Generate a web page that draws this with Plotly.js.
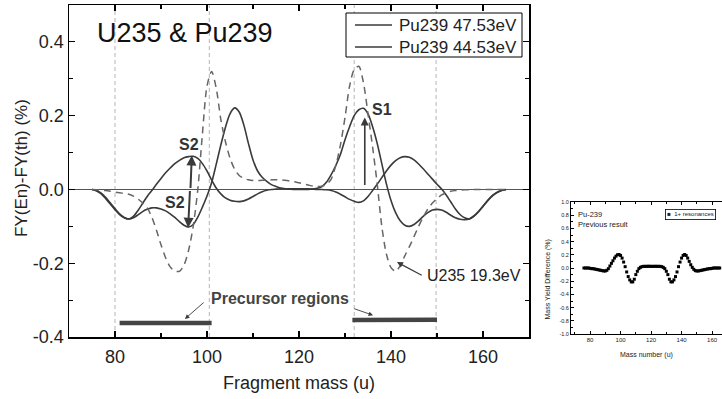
<!DOCTYPE html>
<html><head><meta charset="utf-8">
<script src="https://cdn.plot.ly/plotly-3.0.1.min.js"></script>
<style>html,body{margin:0;padding:0;background:#fff}#chart{width:722px;height:399px}</style>
</head><body><div id="chart"></div>
<script>
// ---------- main chart data ----------
const mass = [75,76,77,78,79,80,81,82,83,84,85,86,87,88,89,90,91,92,93,94,95,96,97,98,99,100,
  101,102,103,104,105,106,107,108,109,110,111,112,113,114,115,116,117,118,119,120,121,122,123,124,125,
  126,127,128,129,130,131,132,133,134,135,136,137,138,139,140,141,142,143,144,145,146,147,148,149,150,
  151,152,153,154,155,156,157,158,159,160,161,162,163,164,165];

const pu239_4753 = [0.000,-0.003,-0.010,-0.022,-0.037,-0.052,-0.066,-0.076,-0.080,-0.077,-0.069,-0.060,-0.054,-0.050,-0.050,
  -0.053,-0.058,-0.066,-0.076,-0.087,-0.097,-0.102,-0.095,-0.075,-0.048,-0.018,
  0.018,0.068,0.120,0.168,0.205,0.221,0.210,0.175,0.125,0.080,0.050,0.033,0.022,0.013,0.008,0.004,0.002,0.001,0.000,0.000,0.000,0.000,0.001,0.003,0.008,
  0.020,0.040,0.065,0.095,0.135,0.170,0.200,0.216,0.220,0.205,0.170,0.125,0.070,0.015,-0.030,-0.063,-0.085,-0.097,-0.100,-0.095,-0.085,-0.073,-0.063,-0.056,-0.054,
  -0.056,-0.062,-0.070,-0.077,-0.081,-0.082,-0.080,-0.072,-0.060,-0.045,-0.030,-0.017,-0.008,-0.003,0.000];

const pu239_4453 = [0.000,-0.004,-0.012,-0.025,-0.040,-0.055,-0.068,-0.077,-0.080,-0.073,-0.057,-0.038,-0.019,-0.003,0.014,
  0.030,0.045,0.058,0.070,0.079,0.086,0.089,0.090,0.084,0.070,0.050,
  0.026,0.004,-0.012,-0.023,-0.029,-0.032,-0.033,-0.031,-0.026,-0.019,-0.012,-0.006,-0.002,0.000,0.001,0.002,0.002,0.002,0.002,0.002,0.002,0.002,0.001,0.000,0.000,
  -0.001,-0.003,-0.007,-0.013,-0.020,-0.027,-0.032,-0.035,-0.031,-0.019,-0.003,0.014,0.032,0.050,0.066,0.078,0.086,0.089,0.087,0.080,0.069,0.056,0.042,0.028,0.014,
  0.001,-0.015,-0.034,-0.053,-0.068,-0.077,-0.080,-0.073,-0.061,-0.046,-0.031,-0.018,-0.009,-0.003,0.000];

const u235_193 = [0.000,-0.001,-0.002,-0.003,-0.005,-0.007,-0.009,-0.011,-0.013,-0.018,-0.026,-0.036,-0.050,-0.075,-0.110,
  -0.150,-0.185,-0.210,-0.221,-0.222,-0.205,-0.165,-0.100,0.000,0.150,0.280,
  0.320,0.275,0.190,0.130,0.085,0.055,0.038,0.030,0.026,0.024,0.024,0.025,0.025,0.026,0.026,0.026,0.025,0.023,0.021,0.018,0.015,0.012,0.009,0.008,0.009,
  0.014,0.028,0.065,0.120,0.195,0.280,0.325,0.334,0.290,0.205,0.115,0.015,-0.100,-0.175,-0.212,-0.222,-0.207,-0.180,-0.155,-0.128,-0.100,-0.075,-0.053,-0.037,-0.025,
  -0.015,-0.009,-0.005,-0.003,-0.002,-0.001,-0.001,0.000,0.000,0.000,0.000,0.000,0.000,0.000,0.000];

const seriesNames = ['Pu239 47.53eV', 'Pu239 44.53eV'];
const regionEdges = [80, 100.5, 132, 149.8];
const precursorLeftX = [81, 101];
const precursorLeftY = [-0.362, -0.362];
const precursorRightX = [131.6, 150];
const precursorRightY = [-0.354, -0.353];

const yTickVals = [-0.4, -0.2, 0.0, 0.2, 0.4];
const yTickText = ['-0.4', '-0.2', '0.0', '0.2', '0.4'];
const xTickVals = [80, 100, 120, 140, 160];

// ---------- inset (previous result) data ----------
const insetMass = [76,77,78,79,80,81,82,83,84,85,86,87,88,89,90,91,92,93,94,95,96,97,98,99,100,
  101,102,103,104,105,106,107,108,109,110,111,112,113,114,115,116,117,118,119,120,121,122,123,124,125,
  126,127,128,129,130,131,132,133,134,135,136,137,138,139,140,141,142,143,144,145,146,147,148,149,150,
  151,152,153,154,155,156,157,158,159,160,161,162,163,164,165];
const insetDiff = [0.000,0.000,0.000,0.000,-0.005,-0.010,-0.010,-0.015,-0.020,-0.025,-0.030,-0.035,-0.040,-0.045,-0.045,
  -0.035,-0.010,0.030,0.070,0.110,0.150,0.180,0.200,0.205,0.190,
  0.150,0.090,0.020,-0.060,-0.130,-0.180,-0.210,-0.210,-0.170,-0.100,-0.050,-0.010,0.010,0.020,0.025,0.025,0.025,0.026,0.026,0.025,0.025,0.025,0.026,0.025,0.025,
  0.025,0.020,0.010,-0.010,-0.050,-0.100,-0.170,-0.210,-0.210,-0.180,-0.130,-0.060,0.020,0.090,0.150,0.190,0.205,0.190,0.150,0.100,0.050,0.010,-0.020,-0.040,-0.045,
  -0.045,-0.040,-0.035,-0.030,-0.025,-0.020,-0.015,-0.010,-0.010,-0.005,0.000,0.000,0.000,0.000,0.000];
const insetYTickVals = [-1.0,-0.8,-0.6,-0.4,-0.2,0.0,0.2,0.4,0.6,0.8,1.0];
const insetYTickText = ['-1.0','-0.8','-0.6','-0.4','-0.2','0.0','0.2','0.4','0.6','0.8','1.0'];
const insetXTickVals = [80, 100, 120, 140, 160];

const FONT = 'Liberation Sans, Arial, Helvetica, sans-serif';
const solidColor = '#3a3a3a';
const W = 722, H = 399;
const px = v => v / W;          // pixel -> paper x
const py = v => 1 - v / H;      // pixel -> paper y

const traces = [
  {x: mass, y: pu239_4753, name: seriesNames[0], type: 'scatter', mode: 'lines',
   line: {color: solidColor, width: 1.6, shape: 'spline', smoothing: 0.8}, xaxis: 'x', yaxis: 'y'},
  {x: mass, y: pu239_4453, name: seriesNames[1], type: 'scatter', mode: 'lines',
   line: {color: solidColor, width: 1.6, shape: 'spline', smoothing: 0.8}, xaxis: 'x', yaxis: 'y'},
  {x: mass, y: u235_193, name: 'U235 19.3eV', type: 'scatter', mode: 'lines',
   line: {color: '#666', width: 1.5, dash: '7px,5px', shape: 'spline', smoothing: 0.8}, xaxis: 'x', yaxis: 'y'},
  {x: precursorLeftX, y: precursorLeftY, type: 'scatter', mode: 'lines',
   line: {color: '#444', width: 4.5}, xaxis: 'x', yaxis: 'y', hoverinfo: 'skip'},
  {x: precursorRightX, y: precursorRightY, type: 'scatter', mode: 'lines',
   line: {color: '#444', width: 4.5}, xaxis: 'x', yaxis: 'y', hoverinfo: 'skip'},
  {x: insetMass, y: insetDiff, name: '1+ resonances', type: 'scatter', mode: 'markers',
   marker: {symbol: 'square', size: 3, color: '#000', line: {width: 0}}, xaxis: 'x2', yaxis: 'y2'}
];

const shapes = regionEdges.map(v => ({
  type: 'line', xref: 'x', yref: 'y domain', x0: v, x1: v, y0: 0, y1: 1,
  line: {color: '#b5b5b5', width: 1, dash: '4px,3px'}, layer: 'below'
}));
// legend box of the main chart (drawn by hand to match the reference spacing)
shapes.push({type: 'rect', xref: 'paper', yref: 'paper', x0: px(346), x1: px(522), y0: py(57), y1: py(13),
  line: {color: '#000', width: 1}, fillcolor: '#fff', layer: 'above'});
shapes.push({type: 'line', xref: 'paper', yref: 'paper', x0: px(355), x1: px(392), y0: py(25), y1: py(25),
  line: {color: solidColor, width: 1.6}, layer: 'above'});
shapes.push({type: 'line', xref: 'paper', yref: 'paper', x0: px(355), x1: px(392), y0: py(47), y1: py(47),
  line: {color: solidColor, width: 1.6}, layer: 'above'});

function arrow(x, y, ax, ay, w, size, head) {
  return {xref: 'x', yref: 'y', axref: 'x', ayref: 'y', x: x, y: y, ax: ax, ay: ay, text: '',
    showarrow: true, arrowhead: head, arrowsize: size, arrowwidth: w, arrowcolor: '#3a3a3a', standoff: 0, startstandoff: 0};
}
function ptext(x, y, text, size, extra) {
  return Object.assign({xref: 'paper', yref: 'paper', x: px(x), y: py(y), xanchor: 'center', yanchor: 'middle',
    showarrow: false, text: text, font: {family: FONT, size: size, color: '#222'}}, extra || {});
}

const annotations = [
  {xref: 'x', yref: 'y', x: 75.6, y: 0.424, xanchor: 'left', yanchor: 'middle', showarrow: false,
   text: 'U235 &amp; Pu239', font: {family: FONT, size: 27, color: '#111'}},
  {xref: 'x', yref: 'y', x: 138.0, y: 0.216, xanchor: 'center', yanchor: 'middle', showarrow: false, text: '<b>S1</b>',
   font: {family: FONT, size: 16, color: '#333'}},
  {xref: 'x', yref: 'y', x: 96.1, y: 0.122, xanchor: 'center', yanchor: 'middle', showarrow: false, text: '<b>S2</b>',
   font: {family: FONT, size: 16, color: '#333'}},
  {xref: 'x', yref: 'y', x: 93.0, y: -0.035, xanchor: 'center', yanchor: 'middle', showarrow: false, text: '<b>S2</b>',
   font: {family: FONT, size: 16, color: '#333'}},
  {xref: 'x', yref: 'y', x: 115.9, y: -0.295, xanchor: 'center', yanchor: 'middle', showarrow: false, text: '<b>Precursor regions</b>',
   font: {family: FONT, size: 16, color: '#444'}},
  {xref: 'x', yref: 'y', x: 147.4, y: -0.232, xanchor: 'left', yanchor: 'middle', showarrow: false, text: 'U235 19.3eV',
   font: {family: FONT, size: 16, color: '#222'}},
  arrow(134.3, 0.195, 134.3, 0.008, 1.6, 1, 2),
  arrow(96.7, 0.092, 96.4, 0.0, 2, 1, 2),
  arrow(95.9, -0.104, 96.3, 0.0, 2, 1, 2),
  arrow(95.2, -0.351, 99.6, -0.303, 0.9, 1, 2),
  arrow(136.1, -0.341, 131.7, -0.322, 0.9, 1, 2),
  arrow(141.3, -0.197, 147.0, -0.235, 1.2, 1, 2),
  // legend texts of the main chart
  ptext(397, 36, seriesNames[0] + '<br>' + seriesNames[1], 17, {xanchor: 'left', align: 'left'}),
  // axis titles of main chart
  ptext(299, 383, 'Fragment mass (u)', 18),
  ptext(21, 168, 'FY(En)-FY(th) (%)', 17, {textangle: -90}),
  // inset texts
  ptext(576, 208, 'Pu-239<br>Previous result', 7.5, {xanchor: 'left', yanchor: 'top', align: 'left'}),
  ptext(690.5, 214.5, '\u25A0&nbsp;&nbsp;1+ resonances', 6, {bordercolor: '#000', borderwidth: 0.8, borderpad: 1.5, bgcolor: '#fff'}),
  ptext(646.7, 355, 'Mass number (u)', 7),
  ptext(547.5, 280, 'Mass Yield Difference (%)', 7, {textangle: -90})
];

const layout = {
  width: W, height: H,
  margin: {l: 0, r: 0, t: 0, b: 0, pad: 0},
  paper_bgcolor: '#fff', plot_bgcolor: 'rgba(0,0,0,0)',
  font: {family: FONT, color: '#222'},
  showlegend: false,
  xaxis: {domain: [69/722, 529/722], range: [70, 170], anchor: 'y', automargin: false,
    showline: true, linecolor: '#000', linewidth: 1.5, mirror: 'allticks',
    ticks: 'inside', ticklen: 6, tickwidth: 1.2, tickcolor: '#000', ticklabelstandoff: 3,
    tickvals: xTickVals, tickfont: {family: FONT, size: 18, color: '#222'},
    minor: {ticks: 'inside', dtick: 10, tick0: 70, ticklen: 4, tickwidth: 1.2, tickcolor: '#000'},
    showgrid: false, zeroline: false},
  yaxis: {domain: [62/399, 394/399], range: [-0.4, 0.5], anchor: 'x', automargin: false,
    showline: true, linecolor: '#000', linewidth: 1.5, mirror: 'allticks',
    ticks: 'inside', ticklen: 6, tickwidth: 1.2, tickcolor: '#000',
    tickvals: yTickVals, ticktext: yTickText, tickfont: {family: FONT, size: 18, color: '#222'},
    minor: {ticks: 'inside', dtick: 0.1, tick0: 0, ticklen: 4, tickwidth: 1.2, tickcolor: '#000'},
    showgrid: false, zeroline: true, zerolinecolor: '#555', zerolinewidth: 1},
  xaxis2: {domain: [571/722, 1], range: [67.5, 166.5], anchor: 'y2', automargin: false,
    showline: true, linecolor: '#000', linewidth: 1, mirror: 'allticks',
    ticks: 'inside', ticklen: 3, tickwidth: 1, tickcolor: '#000',
    tickvals: insetXTickVals, tickfont: {family: FONT, size: 6, color: '#222'},
    minor: {ticks: 'inside', dtick: 10, tick0: 70, ticklen: 2, tickwidth: 1, tickcolor: '#000'},
    showgrid: false, zeroline: false},
  yaxis2: {domain: [65/399, 197/399], range: [-1, 1], anchor: 'x2', automargin: false,
    showline: true, linecolor: '#000', linewidth: 1, mirror: false,
    ticks: 'inside', ticklen: 3, tickwidth: 1, tickcolor: '#000',
    tickvals: insetYTickVals, ticktext: insetYTickText, tickfont: {family: FONT, size: 5.5, color: '#222'},
    minor: {ticks: 'inside', dtick: 0.1, tick0: 0, ticklen: 1.5, tickwidth: 1, tickcolor: '#000'},
    showgrid: false, zeroline: false},
  shapes: shapes,
  annotations: annotations
};

Plotly.newPlot('chart', traces, layout, {staticPlot: true, displayModeBar: false});
</script>
</body></html>
